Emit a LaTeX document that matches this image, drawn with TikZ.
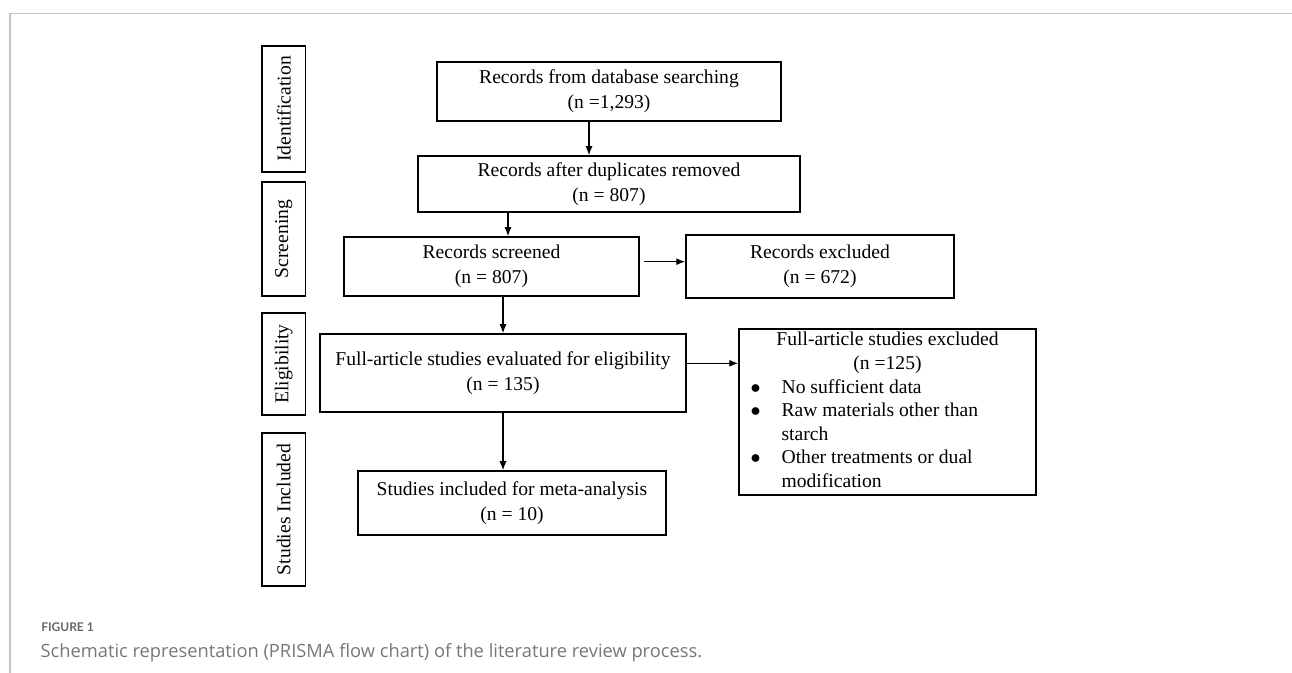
\documentclass[tikz,border=0pt]{standalone}
\usepackage{fontspec}
\setmainfont{Liberation Serif}
\newfontfamily\capfont{Open Sans}
\newfontfamily\numfont{Lato}
\usetikzlibrary{arrows.meta,positioning}
\definecolor{framegray}{HTML}{C4C4C4}
\definecolor{capgray}{HTML}{777777}
\definecolor{numgray}{HTML}{666666}
\tikzstyle{block} = [rectangle, draw, line width=0.75pt, inner sep=0pt, align=center, font=\fontsize{9.8}{12.5}\selectfont]
\tikzstyle{phase} = [block, rotate=90, minimum height=21.75pt]
\tikzstyle{caption} = [anchor=base west, inner sep=0pt, text=capgray]

\begin{document}
\begin{tikzpicture}[x=0.5pt, y=-0.5pt, >={Latex[length=4.5pt,width=3.5pt]}, line width=0.6pt]
    \useasboundingbox (0,0) rectangle (1292,673);
    % page frame
    \draw[framegray, line width=0.8pt] (10,673) -- (10,13.5) -- (1292,13.5);

    % phases on the left
    \node [phase, minimum width=63pt] (ident) at (283.7,109) {Identification};
    \node [phase, minimum width=57pt] (screen) at (283.7,239) {Screening};
    \node [phase, minimum width=51pt] (elig) at (283.7,364) {Eligibility};
    \node [phase, minimum width=76.5pt] (included) at (283.7,509.5) {Studies Included};

    % flow
    \node [block, minimum width=172pt, minimum height=29.5pt] (db) at (609,91.5) {Records from database searching\\(n =1,293)};
    \node [block, minimum width=191pt, minimum height=28pt] (dup) at (609,184) {Records after duplicates removed\\(n = 807)};
    \node [block, minimum width=147.5pt, minimum height=29.5pt] (scr) at (491.5,266.5) {Records screened\\(n = 807)};
    \node [block, minimum width=134pt, minimum height=31.5pt] (exc) at (820,266.5) {Records excluded\\(n = 672)};
    \node [block, minimum width=183pt, minimum height=39pt] (eval) at (503,373) {Full-article studies evaluated for eligibility\\(n = 135)};
    \node [block, minimum width=154pt, minimum height=32pt] (incl) at (512,503) {Studies included for meta-analysis\\(n = 10)};
    \node [block, minimum width=148.5pt, minimum height=83pt, align=left] (fexc) at (887.5,412) {%
        \setlength{\tabcolsep}{0pt}\fontsize{9.8}{11.8}\selectfont
        \begin{tabular}{@{\hspace{5.8pt}}p{15.5pt}p{127.2pt}@{}}
        \multicolumn{2}{@{}c@{}}{Full-article studies excluded}\\
        \multicolumn{2}{@{}c@{}}{(n =125)}\\
        $\bullet$ & No sufficient data\\
        $\bullet$ & Raw materials other than\\
          & starch\\
        $\bullet$ & Other treatments or dual\\
          & modification
        \end{tabular}};

    \draw[->] ([xshift=-10pt]db.south) -- ([xshift=-10pt]db.south |- dup.north);
    \draw[->] ([xshift=8.25pt]scr.north |- dup.south) -- ([xshift=8.25pt]scr.north);
    \draw[->] ([xshift=2pt,yshift=2.4pt]scr.east) -- ([yshift=2.4pt]scr.east -| exc.west);
    \draw[->] (eval.north |- scr.south) -- (eval.north);
    \draw[->] ([yshift=4.85pt]eval.east) -- ([yshift=4.85pt]eval.east -| fexc.west);
    \draw[->] (eval.south) -- (eval.south |- incl.north);

    % caption
    \node [caption, text=numgray, font=\numfont\bfseries\fontsize{6}{7}\selectfont] (fignum) at (40.7,632) {FIGURE 1};
    \node [caption, font=\capfont\fontsize{9.15}{10}\selectfont] (figcap) at (40,658) {Schematic representation (PRISMA flow chart) of the literature review process.};
\end{tikzpicture}
\end{document}
